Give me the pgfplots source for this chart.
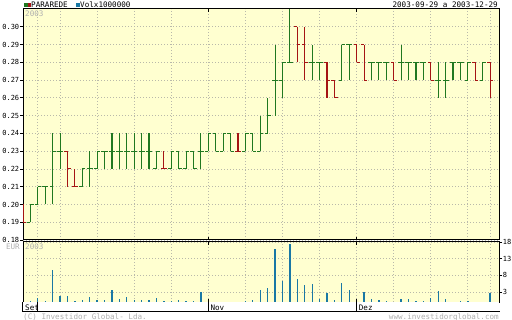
\documentclass[border=0pt]{standalone}
\usepackage{fontspec}
\setmainfont{DejaVu Sans Mono}
\usepackage{pgfplots}
\usepackage{pgfplotstable}
\pgfplotsset{compat=1.18}
\definecolor{bg}{RGB}{255,255,208}
\definecolor{gbar}{RGB}{32,120,32}
\definecolor{rbar}{RGB}{165,20,20}
\definecolor{vbar}{RGB}{25,120,165}
\definecolor{gridc}{RGB}{185,185,170}
\definecolor{ltxt}{RGB}{175,175,175}

\pgfplotstableread{
i O H L C
1 0.19 0.20 0.19 0.20
2 0.20 0.21 0.20 0.21
3 0.21 0.21 0.20 0.21
4 0.21 0.24 0.20 0.23
5 0.23 0.24 0.22 0.23
8 0.21 0.22 0.21 0.22
9 0.22 0.23 0.21 0.22
10 0.22 0.23 0.22 0.23
11 0.23 0.23 0.22 0.23
12 0.23 0.24 0.22 0.23
13 0.23 0.24 0.22 0.23
14 0.23 0.24 0.22 0.23
15 0.23 0.24 0.22 0.23
16 0.23 0.24 0.22 0.23
17 0.23 0.24 0.22 0.23
18 0.22 0.23 0.22 0.23
20 0.22 0.23 0.22 0.23
21 0.23 0.23 0.22 0.22
22 0.22 0.23 0.22 0.23
23 0.23 0.23 0.22 0.22
24 0.23 0.24 0.22 0.23
25 0.23 0.24 0.23 0.24
26 0.24 0.24 0.23 0.23
27 0.23 0.24 0.23 0.24
28 0.24 0.24 0.23 0.23
30 0.23 0.24 0.23 0.24
31 0.24 0.24 0.23 0.23
32 0.23 0.25 0.23 0.24
33 0.24 0.26 0.24 0.25
34 0.27 0.29 0.25 0.27
35 0.27 0.28 0.26 0.28
36 0.28 0.31 0.28 0.28
39 0.28 0.29 0.27 0.28
40 0.28 0.28 0.27 0.28
43 0.27 0.29 0.27 0.29
44 0.29 0.29 0.27 0.29
47 0.28 0.28 0.27 0.28
48 0.28 0.28 0.27 0.28
49 0.28 0.28 0.27 0.28
51 0.28 0.29 0.27 0.28
52 0.28 0.28 0.27 0.28
53 0.28 0.28 0.27 0.28
54 0.28 0.28 0.27 0.28
56 0.27 0.28 0.26 0.27
57 0.27 0.28 0.26 0.27
58 0.28 0.28 0.27 0.28
59 0.28 0.28 0.27 0.28
60 0.27 0.28 0.27 0.28
62 0.27 0.28 0.27 0.28
}\greenbars

\pgfplotstableread{
i O H L C
0 0.20 0.20 0.19 0.19
6 0.23 0.23 0.21 0.22
7 0.21 0.22 0.21 0.21
19 0.22 0.23 0.22 0.22
29 0.23 0.24 0.23 0.23
37 0.30 0.30 0.28 0.29
38 0.29 0.30 0.27 0.28
41 0.28 0.28 0.26 0.27
42 0.27 0.27 0.26 0.26
45 0.29 0.29 0.28 0.28
46 0.29 0.29 0.27 0.27
50 0.28 0.28 0.27 0.27
55 0.28 0.28 0.27 0.27
61 0.28 0.28 0.27 0.27
63 0.28 0.28 0.26 0.27
}\redbars

\pgfplotstableread{
i V
0 0
1 0.3
2 1.1
3 0.3
4 9.6
5 1.8
6 1.8
7 0.3
8 0.6
9 1.4
10 0.6
11 0.6
12 3.6
13 0.8
14 1.4
15 0.5
16 0.5
17 0.5
18 1.1
19 0.3
20 0.3
21 0.5
22 0.3
23 0.3
24 2.9
25 0
26 0
27 0
28 0
29 0
30 0.3
31 0.5
32 3.5
33 4.3
34 16.0
35 6.3
36 17.3
37 6.8
38 5.0
39 5.3
40 0.9
41 2.7
42 0.5
43 5.7
44 3.5
45 0
46 3.1
47 0.8
48 0.6
49 0.3
50 0
51 0.8
52 0.8
53 0.2
54 0.3
55 1.1
56 3.2
57 1.0
58 0
59 0.3
60 0.3
61 0
62 0
63 2.7
}\vol

\newcommand{\sm}{\fontsize{7.6bp}{9bp}\selectfont}
\newcommand{\tk}{\fontsize{7bp}{8bp}\selectfont}

\pgfplotsset{
  panel/.style={
    scale only axis, width=476bp, xmin=0, xmax=64.2,
    axis background/.style={fill=bg},
    axis line style={black, line width=1bp},
    xtick={2,5,10,15,20,30,35,40,50,55,60,63}, xticklabels={},
    xtick style={draw=none},
    grid=major,
    major grid style={gridc, line width=0.8bp, dash pattern=on 1bp off 2bp},
    tick align=outside, major tick length=3bp,
    ytick style={black, line width=0.8bp},
    tick label style={font=\tk, inner sep=0.6bp},
    /pgf/number format/assume math mode=true,
    extra x ticks={25,45}, extra x tick labels={},
    extra x tick style={grid=major, tick align=inside, major tick length=3bp,
      xtick style={draw=black, line width=1bp}},
  },
  ohlc/.style={draw=none, mark=none, forget plot},
}

\begin{document}
\begin{tikzpicture}
\useasboundingbox (0,0) rectangle (512bp,320bp);

% main price panel
\begin{axis}[panel, at={(23bp,80bp)}, anchor=south west, height=231bp,
  ymin=0.18, ymax=0.31,
  ytick={0.18,0.19,0.20,0.21,0.22,0.23,0.24,0.25,0.26,0.27,0.28,0.29,0.30},
  ytick pos=left,
  y tick label style={/pgf/number format/fixed, /pgf/number format/fixed zerofill,
    /pgf/number format/precision=2},
]
% green bars
\addplot[ohlc, error bars/.cd, y dir=plus, y explicit, error mark=none,
  error bar style={gbar, line width=1.1bp}]
  table[x=i, y=L, y error expr=\thisrow{H}-\thisrow{L}] {\greenbars};
\addplot[ohlc, error bars/.cd, x dir=minus, x fixed=0.42, error mark=none,
  error bar style={gbar, line width=1.1bp}]
  table[x=i, y=O] {\greenbars};
\addplot[ohlc, error bars/.cd, x dir=plus, x fixed=0.42, error mark=none,
  error bar style={gbar, line width=1.1bp}]
  table[x=i, y=C] {\greenbars};
% red bars
\addplot[ohlc, error bars/.cd, y dir=plus, y explicit, error mark=none,
  error bar style={rbar, line width=1.1bp}]
  table[x=i, y=L, y error expr=\thisrow{H}-\thisrow{L}] {\redbars};
\addplot[ohlc, error bars/.cd, x dir=minus, x fixed=0.42, error mark=none,
  error bar style={rbar, line width=1.1bp}]
  table[x=i, y=O] {\redbars};
\addplot[ohlc, error bars/.cd, x dir=plus, x fixed=0.42, error mark=none,
  error bar style={rbar, line width=1.1bp}]
  table[x=i, y=C] {\redbars};
\end{axis}

% volume panel
\begin{axis}[panel, at={(23bp,18bp)}, anchor=south west, height=60bp,
  ymin=0, ymax=18, ytick={3,8,13,18},
  ytick pos=right, yticklabel pos=right,
]
\addplot[ycomb, draw=vbar, color=vbar, line width=1.3bp, mark=none] table[x=i, y=V] {\vol};
\coordinate (s0) at (axis cs:0,0);
\coordinate (s1) at (axis cs:2,0);
\coordinate (s2) at (axis cs:25,0);
\coordinate (s3) at (axis cs:45,0);
\end{axis}

% date strip
\fill[white] (23bp,8bp) rectangle (499bp,18bp);
\draw[line width=1bp] (22.5bp,18bp) -- (22.5bp,8bp) -- (499.5bp,8bp);
\foreach \c in {s1,s2,s3} \draw[line width=1bp] (\c) -- ++(0,-10bp);
\node[anchor=west, inner sep=0pt, font=\sm] at ([xshift=2bp,yshift=-5.5bp]s0) {Set};
\node[anchor=west, inner sep=0pt, font=\sm] at ([xshift=2bp,yshift=-5.5bp]s2) {Nov};
\node[anchor=west, inner sep=0pt, font=\sm] at ([xshift=2bp,yshift=-5.5bp]s3) {Dez};

% in-panel labels
\node[anchor=north west, inner sep=0pt, font=\sm, text=ltxt] at (25bp,309bp) {2003};
\node[anchor=north west, inner sep=0pt, font=\sm, text=ltxt] at (25bp,76bp) {2003};
\node[anchor=north east, inner sep=0pt, font=\sm, text=ltxt] at (20bp,76bp) {EUR};

% header
\fill[gbar] (24bp,313bp) rectangle (27.5bp,316.5bp);
\fill[rbar] (27.5bp,313bp) rectangle (31bp,316.5bp);
\node[anchor=base west, inner sep=0pt, font=\sm] at (31bp,312.5bp) {PARAREDE};
\fill[vbar] (76bp,313bp) rectangle (79.5bp,316.5bp);
\node[anchor=base west, inner sep=0pt, font=\sm] at (80bp,312.5bp) {Volx1000000};
\node[anchor=base east, inner sep=0pt, font=\sm] at (498bp,312.5bp) {2003-09-29 a 2003-12-29};

% footer
\node[anchor=base west, inner sep=0pt, font=\sm, text=ltxt] at (23bp,0.5bp) {(C) Investidor Global- Lda.};
\node[anchor=base east, inner sep=0pt, font=\sm, text=ltxt] at (499bp,0.5bp) {www.investidorglobal.com};
\end{tikzpicture}
\end{document}
